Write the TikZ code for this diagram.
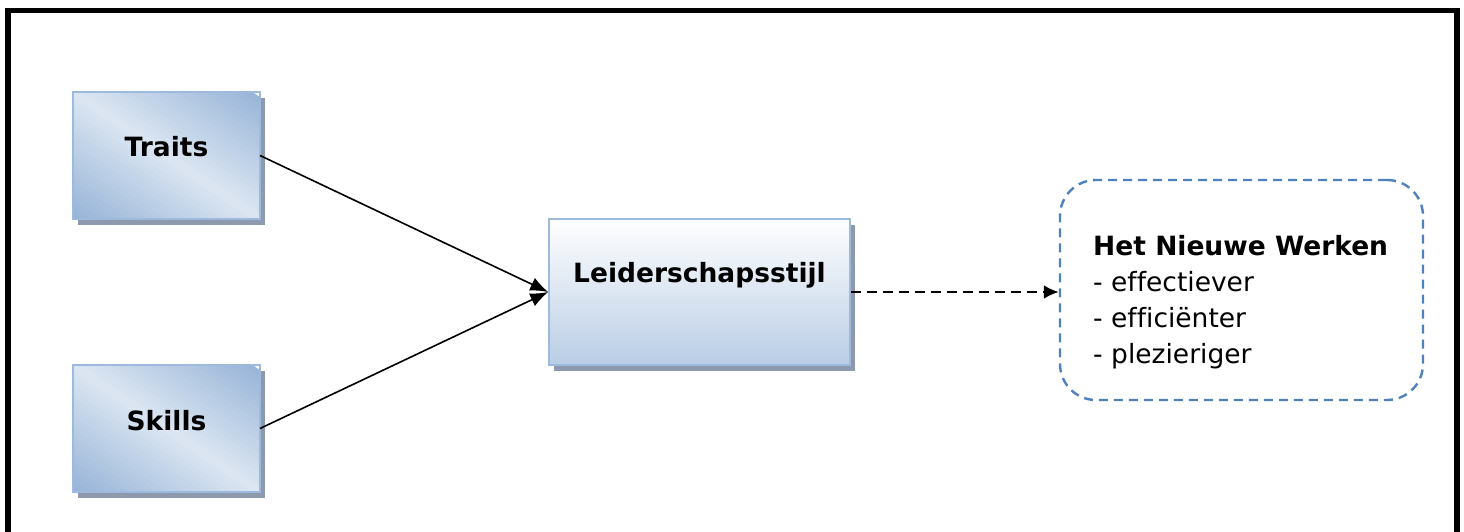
\documentclass[tikz,border=0pt]{standalone}
\usepackage{fontspec}
\setmainfont[Ligatures=NoCommon]{DejaVu Sans}
\usetikzlibrary{arrows.meta,shadows}
\definecolor{boxdark}{HTML}{95B3D7}
\definecolor{boxlight}{HTML}{DCE6F2}
\definecolor{boxedge}{HTML}{9DB9DC}
\definecolor{shadowcol}{HTML}{8D9AAE}
\definecolor{lowblue}{HTML}{B9CDE5}
\definecolor{dashblue}{HTML}{4F81BD}
\tikzset{
  shadowed/.style={general shadow={shadow xshift=5pt,shadow yshift=-6pt,fill=shadowcol}},
  inputbox/.style={shadowed,fill=white,minimum width=187pt,minimum height=127pt,inner sep=0pt,outer sep=0pt},
  stylebox/.style={shadowed,draw=boxedge,line width=1.5pt,minimum width=301pt,minimum height=146pt,
    top color=white,bottom color=lowblue,inner sep=0pt},
  outcomebox/.style={draw=dashblue,line width=2.4pt,dash pattern=on 9pt off 6pt,rounded corners=36pt,
    minimum width=363pt,minimum height=220pt,inner sep=0pt},
  boxlabel/.style={font=\fontsize{26.5}{36}\selectfont\bfseries,inner sep=0pt},
  link/.style={line width=1.6pt,-{Latex[length=18pt,width=14pt]}},
  dashedlink/.style={line width=2.6pt,dash pattern=on 10pt off 6pt,-{Latex[length=15pt,width=14pt]}}
}
% diagonal gradient: light along the top-left/bottom-right diagonal,
% darker towards the other two corners
\newcommand\diagfill[1]{%
  \begin{scope}
    \clip (#1.south west) rectangle (#1.north east);
    \begin{scope}[shift={(#1.south west)},xscale=187,yscale=127]
      \foreach \s in {0,0.05,...,1.95}{%
        \pgfmathsetmacro\p{min(100,abs(\s+0.025-1)*100)}%
        \pgfmathsetmacro\e{\s+0.06}%
        \fill[boxdark!\p!boxlight] (\s+1,-1) -- (\e+1,-1) -- (\e-2,2) -- (\s-2,2) -- cycle;
      }
    \end{scope}
  \end{scope}
  \draw[boxedge,line width=1.5pt] (#1.south west) rectangle (#1.north east);
}
\begin{document}
\begin{tikzpicture}[x=1pt,y=1pt]
  \useasboundingbox (0,0) rectangle (1464,531);
  % outer frame, open at the bottom
  \draw[line width=5.5pt] (8,-9) -- (8,520.5) -- (1457,520.5) -- (1457,-9);

  % input boxes
  \node[inputbox] (traits) at (166.5,375.5) {};
  \diagfill{traits}
  \node[boxlabel] (traitsT) at (166.5,384) {Traits};
  \node[inputbox] (skills) at (166.5,102.5) {};
  \diagfill{skills}
  \node[boxlabel] (skillsT) at (166.5,110) {Skills};

  % central box
  \node[stylebox] (style) at (699.5,239) {};
  \node[boxlabel] (styleT) at (699.5,256) {Leiderschapsstijl};

  % outcome box
  \node[outcomebox] (outcome) at (1241.5,241) {};
  \node[anchor=north west,inner sep=0pt,align=left,
        font=\fontsize{26.5}{36}\selectfont] (outT) at (1093,296)
        {\textbf{Het Nieuwe Werken}\\- effectiever\\- efficiënter\\- plezieriger};

  % connectors
  \draw[link] (traits.east) -- (style.west);
  \draw[link] (skills.east) -- (style.west);
  \draw[dashedlink] (style.east) -- (style.east -| outcome.west);
\end{tikzpicture}
\end{document}
